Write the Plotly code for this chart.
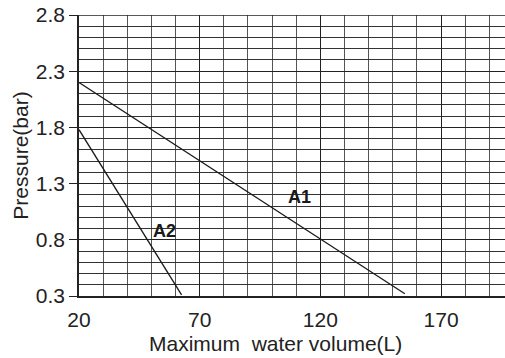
import plotly.graph_objects as go

# curve A1 and A2 (pressure vs max water volume)
a1_volume = [20, 155]
a1_pressure = [2.2, 0.32]
a2_volume = [20, 62.5]
a2_pressure = [1.78, 0.31]

x_ticks = [20, 70, 120, 170]
y_ticks = [0.3, 0.8, 1.3, 1.8, 2.3, 2.8]

fig = go.Figure()
fig.add_trace(go.Scatter(x=a1_volume, y=a1_pressure, mode='lines',
                         line=dict(color='#1a1a1a', width=1.3), name='A1'))
fig.add_trace(go.Scatter(x=a2_volume, y=a2_pressure, mode='lines',
                         line=dict(color='#1a1a1a', width=1.3), name='A2'))

fig.add_annotation(x=111.5, y=1.18, text='<b>A1</b>', showarrow=False,
                   font=dict(size=18, color='#1a1a1a'))
fig.add_annotation(x=55.5, y=0.88, text='<b>A2</b>', showarrow=False,
                   font=dict(size=18, color='#1a1a1a'))

# axis titles as annotations so they sit where the reference has them
fig.add_annotation(x=0.462, y=-0.122, xref='paper', yref='paper',
                   xanchor='center', yanchor='top',
                   text='Maximum  water volume(L)', showarrow=False,
                   font=dict(size=21, color='#222'))
fig.add_annotation(x=-0.138, y=0.5, xref='paper', yref='paper', xanchor='center',
                   text='Pressure(bar)', textangle=-90, showarrow=False,
                   font=dict(size=21, color='#222'))

fig.update_xaxes(
    range=[20, 196.5], tickvals=x_ticks, ticks='', automargin=False,
    ticklabelstandoff=4,
    showgrid=True, gridcolor='#222', gridwidth=1.4,
    minor=dict(dtick=10, tick0=20, showgrid=True, gridcolor='#555', gridwidth=1),
    showline=True, linecolor='#222', linewidth=1.5,
    tickfont=dict(size=21, color='#222'), zeroline=False,
)
fig.update_yaxes(
    range=[0.3, 2.8], tickvals=y_ticks, ticktext=[f'{v:.1f}' for v in y_ticks],
    ticks='outside', ticklen=8, tickcolor='#222', tickwidth=1.2, automargin=False,
    showgrid=True, gridcolor='#222', gridwidth=1.4,
    minor=dict(dtick=0.1, tick0=0.3, showgrid=True, gridcolor='#333', gridwidth=1),
    showline=True, linecolor='#222', linewidth=1.5, mirror=False,
    tickfont=dict(size=21, color='#222'), zeroline=False,
)

fig.add_shape(type='line', xref='paper', yref='y', x0=0, x1=1, y0=2.8, y1=2.8,
              line=dict(color='#222', width=1.5))

fig.update_layout(
    width=505, height=358,
    margin=dict(l=79, r=0, t=15, b=62),
    plot_bgcolor='white', paper_bgcolor='white',
    showlegend=False,
    font=dict(family='Liberation Sans, Arial, sans-serif'),
)

fig.write_html('out.html', config={'displayModeBar': False},
               post_script="document.body.style.margin='0';")
